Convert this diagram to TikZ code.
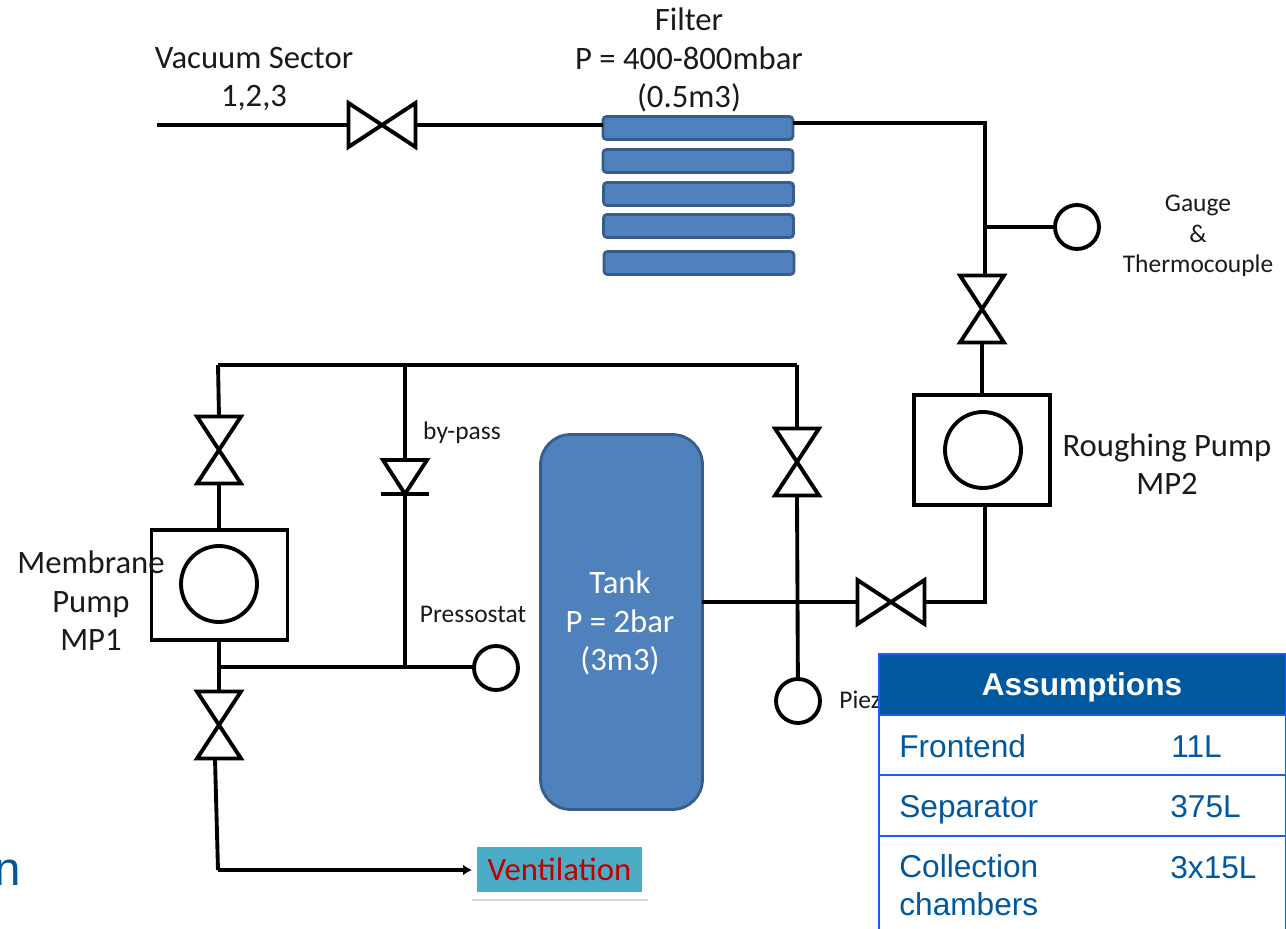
\documentclass[tikz,border=0pt]{standalone}
\usepackage{fontspec}
\setmainfont{Carlito}
\newfontfamily\tablefont{Liberation Sans}
\usepackage{tikz}
\usetikzlibrary{positioning,calc,shadows,arrows.meta}
\definecolor{barblue}{HTML}{4F81BD}
\definecolor{baredge}{HTML}{385D8A}
\definecolor{headblue}{HTML}{00589F}
\definecolor{ruleblue}{HTML}{1A5CFF}
\definecolor{venttheal}{HTML}{4BACC6}
\definecolor{ventred}{HTML}{C00000}
\definecolor{labelgrey}{HTML}{1A1A1A}
\tikzset{
    pipe/.style={line width=2.2pt, black, line join=miter},
    valvebox/.style={inner sep=0, outer sep=0, minimum width=#1},
    gaugering/.style={draw, line width=2.2pt, circle, fill=white, inner sep=0, outer sep=0, minimum size=0.88cm},
    pumpbox/.style={draw, line width=2.2pt, fill=white, inner sep=0, outer sep=0, minimum width=2.72cm, minimum height=2.2cm},
    pumpring/.style={draw, line width=2.2pt, circle, inner sep=0, outer sep=0, minimum size=1.52cm},
    filterbar/.style={draw=baredge, line width=1.6pt, fill=barblue, rounded corners=2pt, inner sep=0, outer sep=0, minimum width=3.8cm, minimum height=0.46cm},
    biglabel/.style={font=\fontsize{18.6}{22}\selectfont, text=labelgrey, align=center, inner sep=0},
    smalllabel/.style={font=\fontsize{14.5}{17.4}\selectfont, text=labelgrey, align=center, inner sep=0},
    tablerow/.style={draw=ruleblue, line width=1.1pt, fill=white, inner sep=0, outer sep=0, minimum width=8.14cm},
    tabletext/.style={font=\tablefont\fontsize{18}{21.9}\selectfont, text=headblue, anchor=base west, align=left, inner sep=0},
}
% upright valve: the lines cross at the centre, closed at top and bottom
\newcommand{\uprightvalve}[3]{
    \node[valvebox=0.88cm, minimum height=1.34cm] (#1) at (#2, #3) {};
    \draw[pipe] (#1.north west) -- (#1.south east) -- (#1.south west) -- (#1.north east) -- cycle;
}
\newcommand{\lyingvalve}[3]{
    \node[valvebox=1.34cm, minimum height=0.88cm] (#1) at (#2, #3) {};
    \draw[pipe] (#1.north west) -- (#1.south east) -- (#1.north east) -- (#1.south west) -- cycle;
}
\begin{document}
\begin{tikzpicture}[x=0.02cm, y=-0.02cm]
    \useasboundingbox (0, 0) rectangle (1286, 929);

    % Filter
    \node[filterbar] (filterA) at (698, 128) {};
    \node[filterbar] (filterB) at (698, 161) {};
    \node[filterbar] (filterC) at (698.5, 194) {};
    \node[filterbar] (filterD) at (698.5, 226) {};
    \node[filterbar] (filterE) at (699, 263) {};
    \node[biglabel] (filterlabel) at (689, 60) {Filter\\P = 400-800mbar\\(0.5m3)};

    % Vacuum line
    \coordinate (sectorend) at (157, 125);
    \lyingvalve{sectorvalve}{382}{125}
    \draw[pipe] (sectorend) -- (sectorvalve.west);
    \draw[pipe] (sectorvalve.east) -- (filterA.west |- sectorvalve);
    \node[biglabel] (sectorlabel) at (254, 79) {Vacuum Sector\\1,2,3};

    % Roughing pump side
    \coordinate (topcorner) at (985, 123);
    \coordinate (gaugejoin) at (985, 227);
    \node[gaugering] (gauge) at (1077, 227) {};
    \uprightvalve{roughvalve}{982}{309}
    \node[pumpbox] (roughpump) at (982, 450) {};
    \node[pumpring] (roughring) at (983, 450) {};
    \draw[pipe] (filterA.east |- topcorner) -- (topcorner) -- (roughvalve.north -| topcorner);
    \draw[pipe] (gaugejoin) -- (gauge);
    \draw[pipe] (roughvalve) ++(0, 34) -- (roughpump.north);
    \node[smalllabel] (gaugelabel) at (1198, 236) {Gauge\\\&\\Thermocouple};
    \node[biglabel] (roughlabel) at (1167, 464) {Roughing Pump\\MP2};

    % Tank
    \node[draw=baredge, line width=1.6pt, fill=barblue, rounded corners=0.6cm, inner sep=0, outer sep=0,
        minimum width=3.24cm, minimum height=7.5cm] (tank) at (621.5, 622) {};
    \node[biglabel, text=white] (tanklabel) at (620, 623) {Tank\\P = 2bar\\(3m3)};

    \coordinate (tankcorner) at (985, 602);
    \lyingvalve{tankvalve}{891}{602}
    \draw[pipe] (roughpump.south -| tankcorner) -- (tankcorner) -- (tankvalve.east);
    \draw[pipe] (tankvalve.west) -- (tank.east |- tankvalve);

    % Common line
    \coordinate (topleft) at (218, 365);
    \coordinate (topmid) at (405, 365);
    \coordinate (topright) at (797, 365);
    \draw[pipe] (topleft) -- (topright);

    % Membrane pump side
    \uprightvalve{membvalve}{219}{450}
    \node[pumpbox] (membpump) at (219.5, 585) {};
    \node[pumpring] (membring) at (219, 584) {};
    \uprightvalve{ventvalve}{219}{725}
    \coordinate (ventjoin) at (219, 667);
    \coordinate (ventcorner) at (218, 870);
    \draw[pipe] (topleft) -- (membvalve.north);
    \draw[pipe] (membvalve.south) -- (membpump.north -| membvalve);
    \draw[pipe] (membpump.south -| membvalve) -- (ventvalve.north);
    \node[biglabel, anchor=center] (memblabel) at (91, 601) {Membrane\\Pump\\MP1};

    % Pressostat and by-pass
    \node[gaugering] (pressostat) at (496, 668) {};
    \coordinate (bypassjoin) at (405, 667);
    \coordinate (checktip) at (405, 494);
    \coordinate (checkleft) at (383, 460);
    \coordinate (checkright) at (427, 460);
    \draw[pipe] (ventjoin) -- (pressostat.west |- ventjoin);
    \draw[pipe] (topmid) -- (topmid |- checkleft);
    \draw[pipe] (checktip) -- (bypassjoin);
    \draw[pipe] (checkleft) -- (checkright) -- (checktip) -- cycle;
    \draw[pipe] (381, 494) -- (429, 494);
    \node[smalllabel] (bypasslabel) at (462, 433) {by-pass};
    \node[smalllabel] (pressolabel) at (473, 614) {Pressostat};

    % Ventilation
    \node[fill=white, drop shadow={shadow xshift=0pt, shadow yshift=-1.2pt, opacity=0.3}, inner sep=0, outer sep=0,
        minimum width=3.52cm, minimum height=1.14cm] (ventbox) at (560, 870.5) {};
    \node[fill=venttheal, inner sep=0, minimum width=3.3cm, minimum height=0.92cm,
        text=ventred, font=\fontsize{18.6}{22}\selectfont] (ventlabel) at (559.5, 869.5) {Ventilation};
    \draw[pipe] (ventvalve) ++(-4, 34) -- (ventcorner);
    \draw[pipe, -{Latex[length=5pt, width=6pt]}] (ventcorner) -- (ventbox.west |- ventcorner);

    % Piezo side
    \uprightvalve{piezovalve}{797}{462}
    \node[gaugering] (piezo) at (798, 701) {};
    \draw[pipe] (topright) -- (piezovalve.north);
    \draw[pipe] (piezovalve.south) -- (piezo);
    \node[smalllabel, anchor=west] (piezolabel) at (839, 700) {Piezo};

    % Text cut by the page edge
    \node[font=\tablefont\fontsize{27}{30}\selectfont, text=headblue, anchor=base east, inner sep=0] (edgeletter) at (21, 885) {n};

    % Assumptions
    \node[tablerow, fill=headblue, minimum height=1.22cm, text=white, text height=13pt, text depth=0pt, font=\tablefont\bfseries\fontsize{18}{22}\selectfont] (tablehead) at (1082, 684.5) {Assumptions};
    \node[tablerow, minimum height=1.2cm, below=0pt of tablehead] (rowfront) {};
    \node[tablerow, minimum height=1.22cm, below=0pt of rowfront] (rowsep) {};
    \node[tablerow, minimum height=2.4cm, below=0pt of rowsep] (rowcoll) {};
    \node[tabletext] (frontname) at (899, 757) {Frontend};
    \node[tabletext] (frontsize) at (1171, 757) {11L};
    \node[tabletext] (sepname) at (899, 817) {Separator};
    \node[tabletext] (sepsize) at (1170, 817) {375L};
    \node[tabletext, anchor=west] (collname) at (899, 885) {Collection\\chambers};
    \node[tabletext] (collsize) at (1170, 878) {3x15L};
\end{tikzpicture}
\end{document}
